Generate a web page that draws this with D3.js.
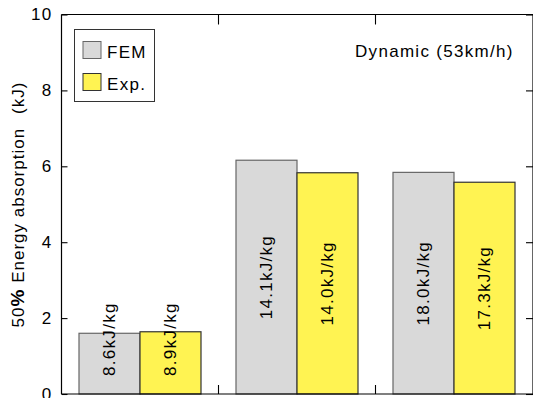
<!DOCTYPE html>
<html><head><meta charset="utf-8">
<script src="https://cdn.jsdelivr.net/npm/d3@7"></script>
<style>
body{margin:0;background:#fff;}
text{font-family:"Liberation Sans",Arial,sans-serif;}
</style></head>
<body><svg id="c" width="533" height="398"></svg>
<script>
const categories = ["g1", "g2", "g3"];
const seriesNames = ["FEM", "Exp."];
const femValues = [1.60, 6.16, 5.84];
const expValues = [1.64, 5.83, 5.58];
const femLabels = ["8.6kJ/kg", "14.1kJ/kg", "18.0kJ/kg"];
const expLabels = ["8.9kJ/kg", "14.0kJ/kg", "17.3kJ/kg"];
const yTicks = [0, 2, 4, 6, 8, 10];
const annotation = "Dynamic (53km/h)";

const colors = {"FEM": "#d9d9d9", "Exp.": "#fff352"};
const strokes = {"FEM": "#666", "Exp.": "#333"};
const FS = 17, LS = "1.3px";

const svg = d3.select("#c");
const L = 61.5, R = 532.5, T = 14.5, B = 394;
const x = d3.scaleBand().domain(categories).range([L, R]).paddingInner(35/157).paddingOuter(35/314);
const xs = d3.scaleBand().domain(seriesNames).range([0, x.bandwidth()]);
const y = d3.scaleLinear().domain([0, 10]).range([B, T]);

const rows = [];
categories.forEach((c, i) => {
  rows.push({c, s: "FEM", v: femValues[i], lab: femLabels[i]});
  rows.push({c, s: "Exp.", v: expValues[i], lab: expLabels[i]});
});

// bars
svg.append("g").selectAll("rect").data(rows).join("rect")
  .attr("x", d => x(d.c) + xs(d.s))
  .attr("y", d => y(d.v))
  .attr("width", xs.bandwidth())
  .attr("height", d => y(0) - y(d.v))
  .attr("fill", d => colors[d.s])
  .attr("stroke", d => strokes[d.s])
  .attr("stroke-width", 1.2);

// bar labels
const lg = svg.append("g");
rows.forEach(d => {
  const cx = x(d.c) + xs(d.s) + xs.bandwidth()/2;
  const t = lg.append("text").text(d.lab)
    .attr("font-size", FS).attr("letter-spacing", LS)
    .attr("text-anchor", "middle").attr("dy", "0.35em");
  const len = t.node().getComputedTextLength();
  const cy = Math.min(y(d.v/2), y(0) - 18 - len/2);
  t.attr("transform", `translate(${cx},${cy}) rotate(-90)`);
});

// axes frame
const ax = svg.append("g").attr("stroke", "#000").attr("stroke-width", 1.2);
ax.append("line").attr("x1", L).attr("x2", L).attr("y1", T).attr("y2", B);
ax.append("line").attr("x1", L).attr("x2", 533).attr("y1", T).attr("y2", T);
ax.append("line").attr("x1", L).attr("x2", 533).attr("y1", B).attr("y2", B);
ax.append("line").attr("x1", R + 0.5).attr("x2", R + 0.5).attr("y1", T).attr("y2", B);

// y ticks (left, inward) + right ticks
const yAxis = d3.axisLeft(y).tickValues(yTicks).tickSize(-6).tickPadding(9).tickFormat(d3.format("d"));
const ga = svg.append("g").attr("transform", `translate(${L},0)`).call(yAxis);
ga.select(".domain").remove();
ga.selectAll("line").attr("stroke", "#000").attr("stroke-width", 1.1);
ga.selectAll("text").attr("font-size", FS).attr("letter-spacing", LS).attr("fill", "#000")
  .attr("font-family", "Liberation Sans, Arial, sans-serif");
const gr = svg.append("g").attr("transform", `translate(${R + 0.5},0)`).call(d3.axisRight(y).tickValues(yTicks).tickSize(-7).tickFormat(""));
gr.select(".domain").remove();
gr.selectAll("line").attr("stroke", "#000").attr("stroke-width", 1.1);

// x boundary ticks (top and bottom, inward)
const bounds = categories.slice(1).map(c => x(c) - x.step()*x.paddingInner()/2);
svg.append("g").selectAll("line.t").data(bounds).join("line")
  .attr("x1", d => d).attr("x2", d => d).attr("y1", T).attr("y2", T + 10)
  .attr("stroke", "#000").attr("stroke-width", 1.1);
svg.append("g").selectAll("line.b").data(bounds).join("line")
  .attr("x1", d => d).attr("x2", d => d).attr("y1", B).attr("y2", B - 9)
  .attr("stroke", "#000").attr("stroke-width", 1.1);

// annotation
svg.append("text").attr("x", 355).attr("y", 57).attr("font-size", FS).attr("letter-spacing", LS)
  .text(annotation);

// legend
const lgd = svg.append("g");
lgd.append("rect").attr("x", 74.5).attr("y", 29.5).attr("width", 80).attr("height", 72)
  .attr("fill", "#fff").attr("stroke", "#333").attr("stroke-width", 1);
seriesNames.forEach((s, i) => {
  const yy = 41.5 + i * 32;
  lgd.append("rect").attr("x", 83).attr("y", yy).attr("width", 18).attr("height", 17)
    .attr("fill", colors[s]).attr("stroke", strokes[s]).attr("stroke-width", 1);
  lgd.append("text").attr("x", 107).attr("y", yy + 16.5).attr("font-size", FS).attr("letter-spacing", LS).text(s);
});

// y label
const yl = svg.append("text").attr("transform", `translate(24,204.5) rotate(-90)`)
  .attr("text-anchor", "middle").attr("font-size", FS).attr("letter-spacing", "1px");
yl.append("tspan").text("50");
yl.append("tspan").attr("font-weight", "bold").attr("font-size", 19).text("%");
yl.append("tspan").text(" Energy absorption");
yl.append("tspan").attr("dx", 14).text("(kJ)");
</script></body></html>
